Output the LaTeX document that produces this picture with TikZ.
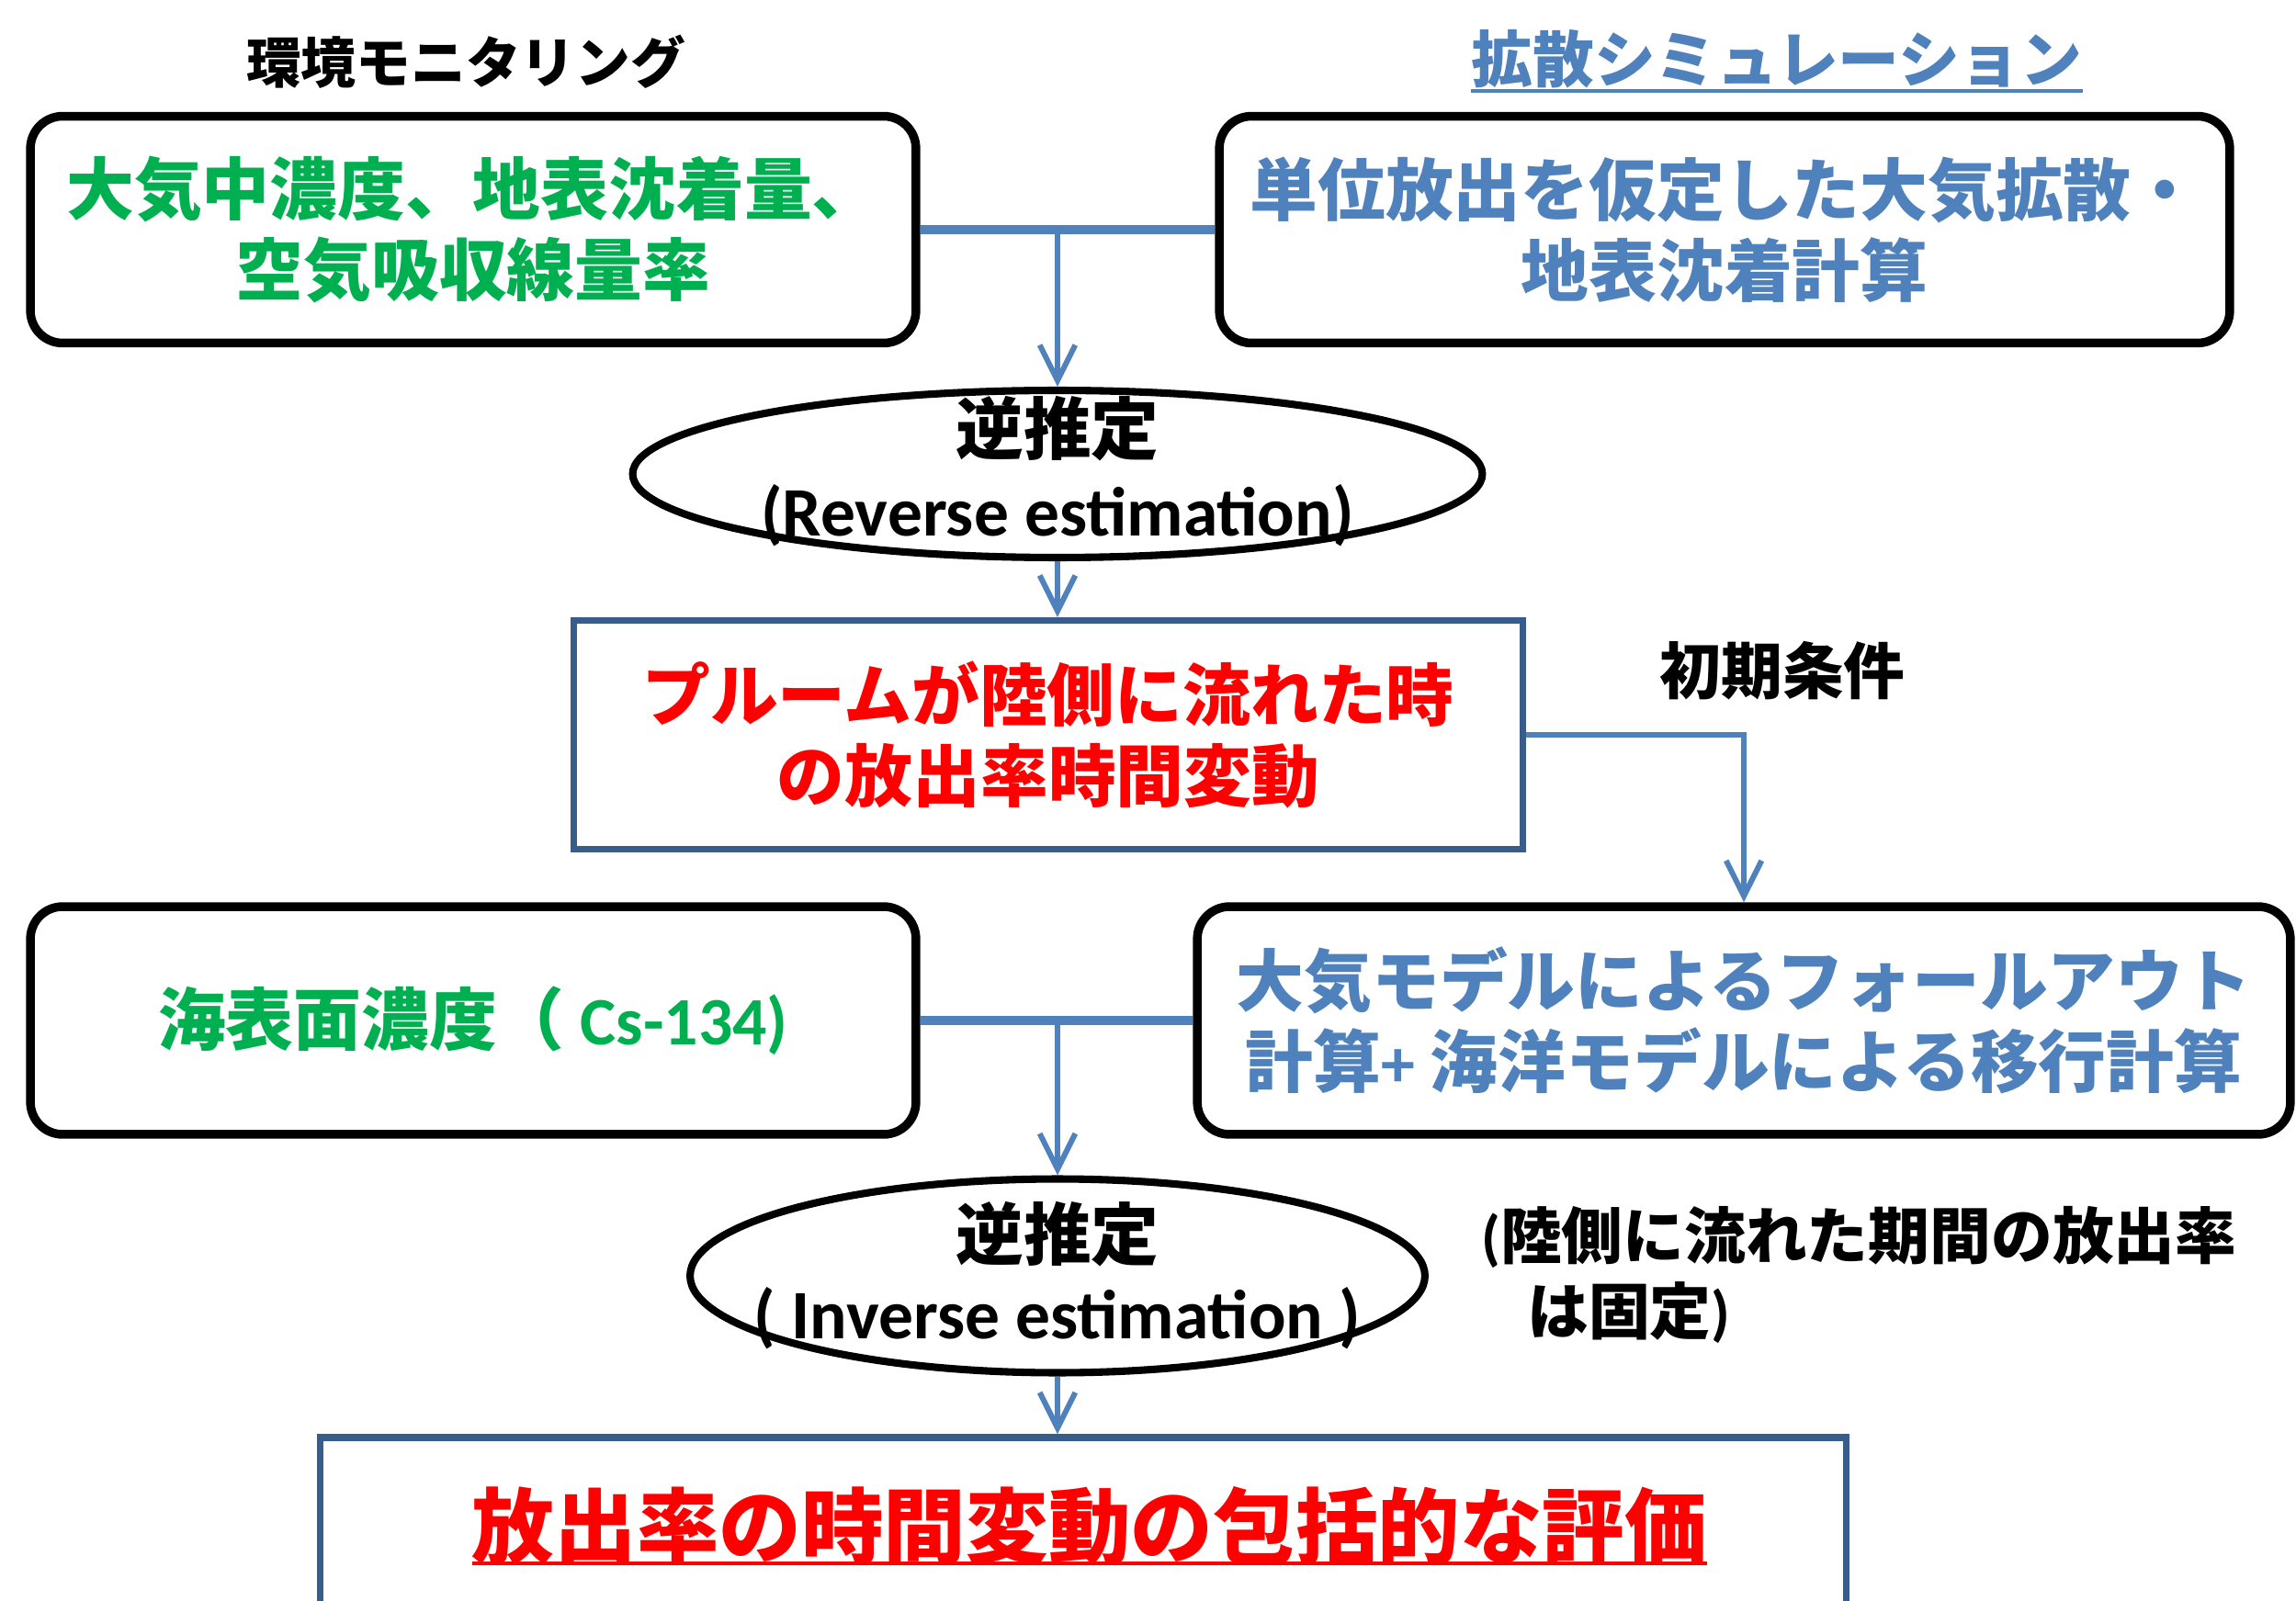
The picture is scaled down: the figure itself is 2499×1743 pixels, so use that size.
\documentclass[tikz,border=0pt]{standalone}
\usepackage{fontspec}
\setmainfont{Carlito}
\newfontfamily\jp{Noto Sans CJK JP}
\usetikzlibrary{arrows.meta,shapes.geometric}
\definecolor{tgreen}{HTML}{00B050}
\definecolor{tblue}{HTML}{4F81BD}
\definecolor{bblue}{HTML}{385D8A}
\definecolor{tred}{HTML}{FF0000}
\tikzset{
  rbox/.style={draw=black, line width=5.4pt, rounded corners=20pt, inner sep=0pt, align=center,
    font=\jp\bfseries\fontsize{42}{50}\selectfont},
  sbox/.style={draw=bblue, line width=4.2pt, inner sep=0pt, align=center,
    font=\jp\bfseries\fontsize{42}{50}\selectfont},
  ell/.style={draw=black, line width=4.6pt, ellipse, inner sep=0pt},
  jptxt/.style={inner sep=0pt, font=\jp\bfseries\fontsize{42}{50}\selectfont},
  lattxt/.style={inner sep=0pt, font=\bfseries\fontsize{43}{50}\selectfont},
  conn/.style={draw=tblue, line width=3.4pt},
  connthick/.style={draw=tblue, line width=5.2pt},
  arr/.style={conn, -{Straight Barb[length=22pt,width=22pt]}},
}
\begin{document}
\begin{tikzpicture}[x=0.02cm,y=-0.02cm]
\useasboundingbox (0,0) rectangle (2499,1743);
\clip (0,0) rectangle (2499,1743);

% titles
\node[jptxt, font=\jp\bfseries\fontsize{34}{40}\selectfont] (t1) at (507,67) {環境モニタリング};
\node[jptxt, text=tblue, font=\jp\bfseries\fontsize{38}{44}\selectfont] (t2) at (1934,64) {拡散シミュレーション};
\draw[tblue, line width=2.2pt] ([yshift=-0.7cm]t2.west) -- ([yshift=-0.7cm]t2.east);

% top boxes
\node[rbox, text=tgreen, minimum width=19.28cm, minimum height=4.94cm] (b1) at (515,250)
  {大気中濃度、地表沈着量、\\空気吸収線量率};
\node[rbox, text=tblue, minimum width=22cm, minimum height=4.94cm] (b2) at (1877,250)
  {単位放出を仮定した大気拡散・\\地表沈着計算};

% ellipse 1
\node[ell, minimum width=18.5cm, minimum height=3.64cm] (e1) at (1151,516) {};
\node[jptxt] (e1a) at (1151,467) {逆推定};
\node[lattxt] (e1b) at (1151,561) {(Reverse estimation)};

% box 3
\node[sbox, text=tred, minimum width=20.66cm, minimum height=4.98cm] (b3) at (1141,800)
  {プルームが陸側に流れた時\\の放出率時間変動};
\node[jptxt, font=\jp\bfseries\fontsize{38}{44}\selectfont] (ic) at (1940,730) {初期条件};

% middle boxes
\node[rbox, text=tgreen, minimum width=19.28cm, minimum height=4.96cm] (b4) at (515,1111)
  {海表面濃度（ {\normalfont\bfseries Cs-134)}};
\node[rbox, text=tblue, minimum width=23.8cm, minimum height=4.96cm] (b5) at (1898,1111)
  {大気モデルによるフォールアウト\\計算{\normalfont\bfseries +} 海洋モデルによる移行計算};

% ellipse 2
\node[ell, minimum width=16.0cm, minimum height=4.22cm] (e2) at (1151,1389) {};
\node[jptxt] (e2a) at (1151,1344) {逆推定};
\node[lattxt] (e2b) at (1151,1435) {( Inverse estimation )};
\node[jptxt, anchor=west, align=left, font=\jp\bfseries\fontsize{38}{47}\selectfont] (note) at (1612,1388)
  {{\normalfont\bfseries (}陸側に流れた期間の放出率\\\hspace{0.75em}は固定{\normalfont\bfseries )}};

% bottom box
\node[sbox, minimum width=33.22cm, minimum height=4.04cm] (b6) at (1179,1666) {};
\node[jptxt, text=tred, font=\jp\bfseries\fontsize{51}{60}\selectfont] (b6t) at (1186,1662) {放出率の時間変動の包括的な評価};
\draw[tred, line width=2.6pt] ([yshift=-0.8cm]b6t.west) -- ([yshift=-0.8cm]b6t.east);

% connectors
\coordinate (j1) at (e1.north |- b1.east);
\draw[connthick] (b1.east) -- (b2.west);
\draw[arr] (j1) -- (e1.north);
\draw[arr] (e1.south) -- (e1.south |- b3.north);
\draw[arr] (b3.east) -| (b5.north);
\coordinate (j2) at (e2.north |- b4.east);
\draw[connthick] (b4.east) -- (b5.west);
\draw[arr] (j2) -- (e2.north);
\draw[arr] (e2.south) -- (e2.south |- b6.north);
\end{tikzpicture}
\end{document}
